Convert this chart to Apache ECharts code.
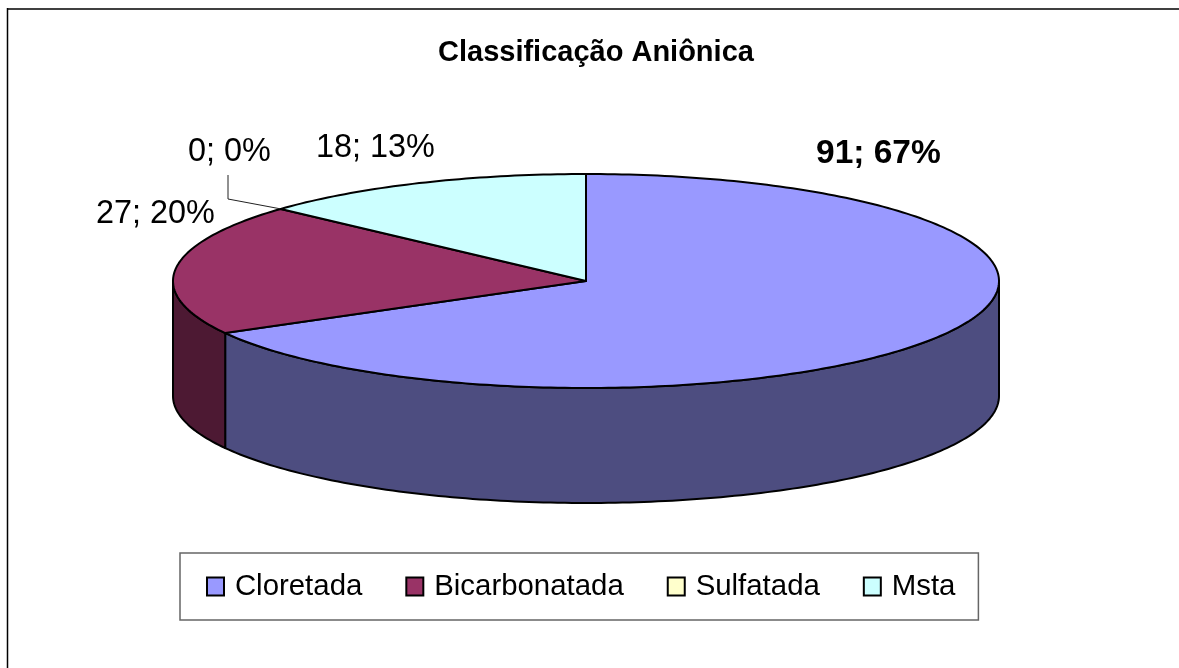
<!DOCTYPE html>
<html>
<head>
<meta charset="utf-8">
<style>html,body{margin:0;padding:0;background:#fff}#chart{width:1179px;height:668px}</style>
<script src="https://cdn.jsdelivr.net/npm/echarts@6/dist/echarts.min.js"></script>
</head>
<body>
<div id="chart"></div>
<script>
var categories = ['Cloretada', 'Bicarbonatada', 'Sulfatada', 'Msta'];
var values = [91, 27, 0, 18];
var topColors = ['#9999ff', '#993366', '#ffffcc', '#ccffff'];
var sideColors = ['#4d4d80', '#4d1933', '#80806a', '#6a8080'];

// layout of the tilted pie
var cx = 586, cy = 281, rx = 413, ry = 107, depth = 115;
var labelPos = [[816, 137], [96, 198], [188, 136], [316, 132]];
var labelBold = [true, false, false, false];

var total = values.reduce(function (a, b) { return a + b; }, 0);

function edge(deg, dy) {
    var r = deg * Math.PI / 180;
    return [cx + rx * Math.sin(r), cy + (dy || 0) - ry * Math.cos(r)];
}

function arcPoints(from, to, dy) {
    var pts = [];
    var n = Math.max(1, Math.ceil(Math.abs(to - from)));
    for (var i = 0; i <= n; i++) pts.push(edge(from + (to - from) * i / n, dy));
    return pts;
}

function renderSlice(params, api) {
    var idx = params.seriesIndex;
    var v = api.value(0);
    var before = values.slice(0, idx).reduce(function (a, b) { return a + b; }, 0);
    var a0 = before / total * 360;
    var a1 = a0 + v / total * 360;
    var lineStyle = { stroke: '#000', lineWidth: 2, lineJoin: 'round' };
    var children = [];

    // front wall, only the part between 90 and 270 deg can be seen
    var w0 = Math.max(a0, 90), w1 = Math.min(a1, 270);
    if (w1 > w0) {
        children.push({
            type: 'polygon',
            shape: { points: arcPoints(w0, w1, depth).concat(arcPoints(w1, w0, 0)) },
            style: Object.assign({ fill: sideColors[idx] }, lineStyle)
        });
    }
    if (v > 0) {
        children.push({
            type: 'polygon',
            shape: { points: [[cx, cy]].concat(arcPoints(a0, a1, 0)) },
            style: Object.assign({ fill: topColors[idx] }, lineStyle)
        });
    } else {
        // zero slice only gets its leader line
        var p = edge(a0, 0);
        children.push({
            type: 'polyline',
            shape: { points: [[228, 175], [228, 199], p] },
            style: { stroke: '#222', lineWidth: 1, fill: null }
        });
    }
    children.push({
        type: 'text',
        z2: 10,
        style: {
            text: v + '; ' + Math.round(v / total * 100) + '%',
            x: labelPos[idx][0],
            y: labelPos[idx][1],
            font: (labelBold[idx] ? 'bold 33.5px' : '32.4px') + ' "Liberation Sans"',
            fill: '#000'
        }
    });
    return { type: 'group', children: children };
}

var chart = echarts.init(document.getElementById('chart'));

var option = {
    animation: false,
    backgroundColor: '#fff',
    title: {
        text: 'Classificação Aniônica',
        left: 438,
        top: 38,
        padding: 0,
        textStyle: { fontFamily: 'Liberation Sans', fontWeight: 'bold', fontSize: 29, color: '#000' }
    },
    legend: {
        data: categories,
        left: 180,
        top: 553,
        orient: 'horizontal',
        padding: [19, 23, 19, 26],
        itemGap: 43,
        itemWidth: 17,
        itemHeight: 18,
        icon: 'rect',
        selectedMode: false,
        borderColor: '#666',
        borderWidth: 1.5,
        itemStyle: { borderColor: '#000', borderWidth: 2 },
        formatter: function (name) { return '\u2009' + name; },
        textStyle: { fontFamily: 'Liberation Sans', fontSize: 29.4, color: '#000' }
    },
    graphic: [
        { type: 'line', shape: { x1: 7.5, y1: 9, x2: 1179, y2: 9 }, style: { stroke: '#404040', lineWidth: 2 } },
        { type: 'line', shape: { x1: 7.5, y1: 8, x2: 7.5, y2: 668 }, style: { stroke: '#000', lineWidth: 1.5 } }
    ],
    series: categories.map(function (name, i) {
        return {
            name: name,
            type: 'custom',
            coordinateSystem: 'none',
            silent: true,
            itemStyle: { color: topColors[i] },
            renderItem: renderSlice,
            data: [[values[i]]]
        };
    })
};

chart.setOption(option);
</script>
</body>
</html>
